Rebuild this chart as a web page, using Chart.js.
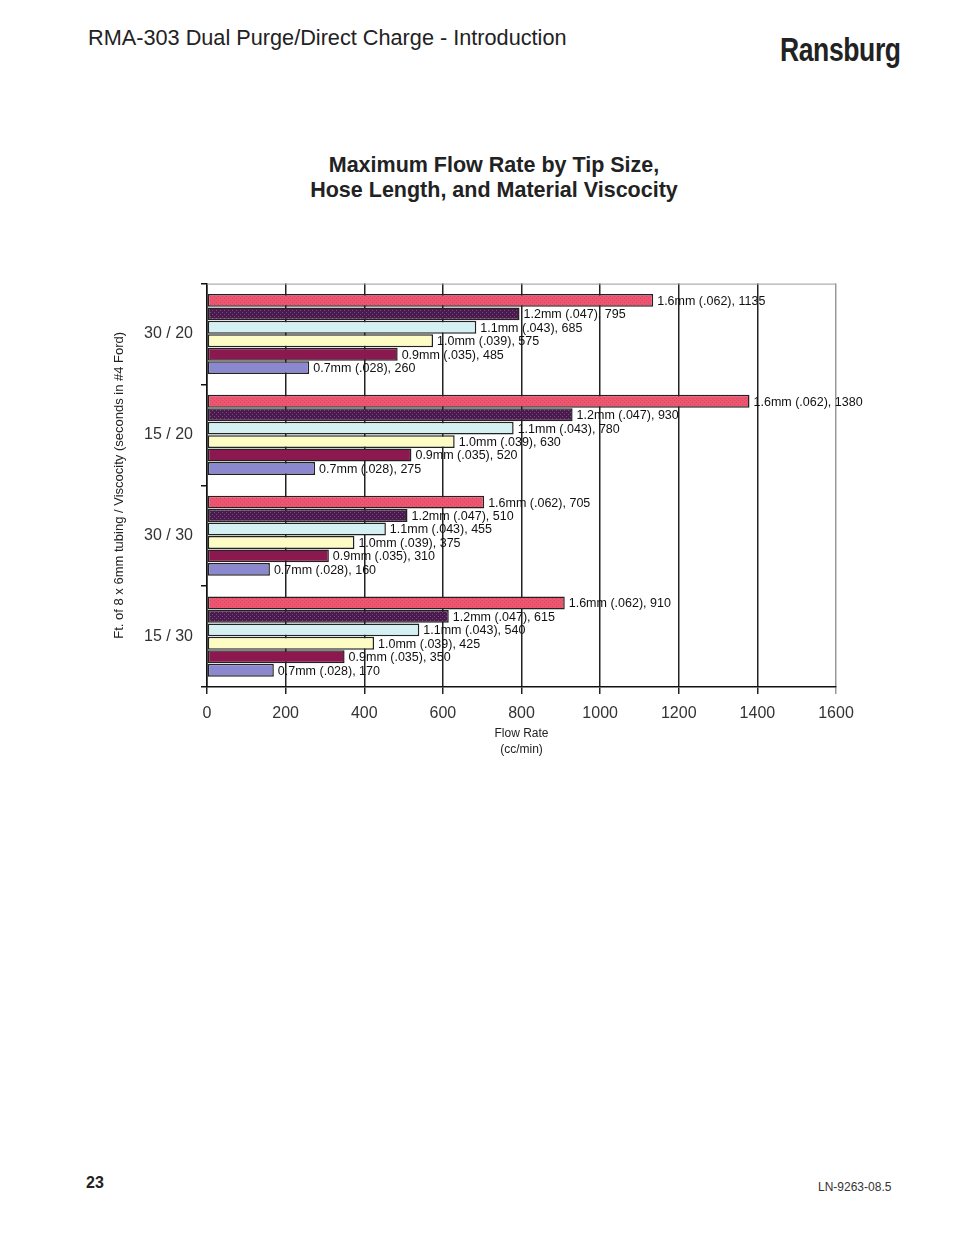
<!DOCTYPE html>
<html>
<head>
<meta charset="utf-8">
<script src="https://cdn.jsdelivr.net/npm/chart.js@4"></script>
<style>
    body { margin: 0; background: #fff; font-family: 'Liberation Sans', Arial, sans-serif; }
    .page { position: relative; width: 954px; height: 1235px; }
    .hdr { position: absolute; left: 88px; top: 25px; font-size: 21.7px; color: #222; }
    .logo { position: absolute; left: 780px; top: 30px; font-size: 34px; font-weight: bold; color: #222;
            transform: scaleX(0.78); transform-origin: left top; letter-spacing: -0.5px; }
    .title { position: absolute; left: 0; width: 988px; top: 153px; text-align: center; font-size: 21.5px;
             font-weight: bold; line-height: 25px; color: #222; }
    .pg { position: absolute; left: 86px; top: 1174px; font-size: 16px; font-weight: bold; color: #222; }
    .doc { position: absolute; left: 818px; top: 1180px; font-size: 12px; color: #333; }
    #wrap { position: absolute; left: 100px; top: 266px; width: 780px; height: 509px; }
</style>
</head>
<body>
<div class="page">
    <div class="hdr">RMA-303 Dual Purge/Direct Charge - Introduction</div>
    <div class="logo">Ransburg</div>
    <div class="title">Maximum Flow Rate by Tip Size,<br>Hose Length, and Material Viscocity</div>
    <div id="wrap"><canvas id="flowChart" width="780" height="509"></canvas></div>
    <div class="pg">23</div>
    <div class="doc">LN-9263-08.5</div>
</div>
<script>
// hose length / viscosity groups, top to bottom
const categories = ['30 / 20', '15 / 20', '30 / 30', '15 / 30'];
const tipSizes = ['1.6mm (.062)', '1.2mm (.047)', '1.1mm (.043)', '1.0mm (.039)', '0.9mm (.035)', '0.7mm (.028)'];

// flow rate in cc/min, one list per tip size, in category order
const tip16 = [1135, 1380, 705, 910];
const tip12 = [795, 930, 510, 615];
const tip11 = [685, 780, 455, 540];
const tip10 = [575, 630, 375, 425];
const tip09 = [485, 520, 310, 350];
const tip07 = [260, 275, 160, 170];

const xTicks = [0, 200, 400, 600, 800, 1000, 1200, 1400, 1600];

// dotted fill like the old spreadsheet chart
function dots(base, dot) {
    const c = document.createElement('canvas');
    c.width = 4; c.height = 4;
    const g = c.getContext('2d');
    g.fillStyle = base;
    g.fillRect(0, 0, 4, 4);
    g.fillStyle = dot;
    g.fillRect(0, 0, 1, 1);
    g.fillRect(2, 2, 1, 1);
    return g.createPattern(c, 'repeat');
}

const fills = [
    dots('#ee5570', '#d84860'),
    dots('#4a1a4e', '#7c4a7c'),
    '#d4f0f2',
    '#fcfcc4',
    '#8c1850',
    '#8c88d0'
];
const series = [tip16, tip12, tip11, tip10, tip09, tip07];

const barLabels = {
    id: 'barLabels',
    afterDatasetsDraw(chart) {
        const ctx = chart.ctx;
        ctx.save();
        ctx.font = '12.5px "Liberation Sans", Arial, sans-serif';
        ctx.fillStyle = '#111';
        ctx.textBaseline = 'middle';
        chart.data.datasets.forEach((ds, i) => {
            chart.getDatasetMeta(i).data.forEach((bar, j) => {
                ctx.fillText(ds.label + ', ' + ds.data[j], bar.x + 4, bar.y + 1);
            });
        });
        ctx.restore();
    }
};

const topBorder = {
    id: 'topBorder',
    beforeDatasetsDraw(chart) {
        const a = chart.chartArea;
        const ctx = chart.ctx;
        ctx.save();
        ctx.strokeStyle = '#999';
        ctx.lineWidth = 1;
        ctx.beginPath();
        ctx.moveTo(a.left, a.top + 0.5);
        ctx.lineTo(a.right, a.top + 0.5);
        ctx.stroke();
        ctx.restore();
    }
};

new Chart(document.getElementById('flowChart'), {
    type: 'bar',
    data: {
        labels: categories,
        datasets: series.map((d, i) => ({
            label: tipSizes[i],
            data: d,
            backgroundColor: fills[i],
            borderColor: '#222',
            borderWidth: 1.5,
            borderSkipped: false,
            categoryPercentage: 0.8,
            barPercentage: 0.96
        }))
    },
    options: {
        indexAxis: 'y',
        responsive: false,
        animation: false,
        layout: { padding: { top: 0, right: 44, left: 0, bottom: 0 } },
        plugins: {
            legend: { display: false },
            tooltip: { enabled: false }
        },
        scales: {
            x: {
                min: 0,
                max: 1600,
                afterBuildTicks: s => { s.ticks = xTicks.map(v => ({ value: v })); },
                afterFit: s => { s.height = 88; },
                border: { color: '#111', width: 1.5 },
                grid: {
                    color: c => c.tick && c.tick.value === 1600 ? '#999' : '#222',
                    lineWidth: 1.5,
                    tickLength: 7,
                    drawTicks: true
                },
                ticks: {
                    color: '#333',
                    padding: 10,
                    callback: v => String(v),
                    font: { family: "'Liberation Sans', Arial, sans-serif", size: 16 }
                },
                title: {
                    display: true,
                    text: ['Flow Rate', '(cc/min)'],
                    color: '#222',
                    padding: { top: 4, bottom: 17 },
                    font: { family: "'Liberation Sans', Arial, sans-serif", size: 12, lineHeight: 1.35 }
                }
            },
            y: {
                afterFit: s => { s.width = 107; },
                border: { color: '#111', width: 1.5 },
                grid: {
                    drawOnChartArea: false,
                    color: '#111',
                    lineWidth: 1.5,
                    tickLength: 6
                },
                ticks: {
                    color: '#333',
                    padding: 8,
                    font: { family: "'Liberation Sans', Arial, sans-serif", size: 16 }
                },
                title: {
                    display: true,
                    text: 'Ft. of 8 x 6mm tubing / Viscocity (seconds in #4 Ford)',
                    color: '#222',
                    padding: { top: 12, bottom: 0 },
                    font: { family: "'Liberation Sans', Arial, sans-serif", size: 13 }
                }
            }
        }
    },
    plugins: [topBorder, barLabels]
});
</script>
</body>
</html>
